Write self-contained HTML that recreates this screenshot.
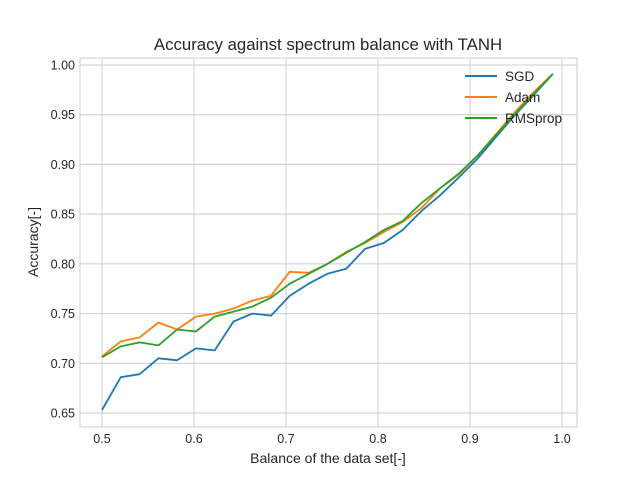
<!DOCTYPE html>
<html><head><meta charset="utf-8"><style>
body{margin:0;background:#fff;font-family:"Liberation Sans","DejaVu Sans",sans-serif;}
svg text{font-family:"Liberation Sans","DejaVu Sans",sans-serif;fill:#262626;}
</style></head><body>
<svg id="chart" width="640" height="480" xmlns="http://www.w3.org/2000/svg">
<rect width="640" height="480" fill="#fff"/>
<text x="328" y="50" font-size="16.8" text-anchor="middle">Accuracy against spectrum balance with TANH</text>
<g id="grid"></g>
<rect x="80" y="58" width="497" height="369" fill="none" stroke="#cccccc" stroke-width="1"/>
<g id="ticks"></g>
<g id="series"></g>
<text x="328" y="463" font-size="14" text-anchor="middle">Balance of the data set[-]</text>
<text transform="translate(38,242) rotate(-90)" font-size="14" text-anchor="middle">Accuracy[-]</text>
<g id="legend"></g>
</svg>
<script>
const xStart = 0.5, xStep = 0.49/24;
const sgd = [0.653,0.686,0.689,0.705,0.703,0.715,0.713,0.742,0.750,0.748,0.768,0.780,0.790,0.795,0.815,0.821,0.834,0.853,0.869,0.887,0.906,0.928,0.950,0.970,0.991];
const adam = [0.707,0.722,0.726,0.741,0.734,0.747,0.750,0.755,0.763,0.768,0.792,0.791,0.800,0.812,0.821,0.832,0.842,0.856,0.876,0.890,0.909,0.931,0.953,0.973,0.991];
const rmsprop = [0.706,0.717,0.721,0.718,0.734,0.732,0.747,0.752,0.757,0.766,0.780,0.790,0.800,0.811,0.822,0.834,0.843,0.861,0.876,0.891,0.909,0.930,0.951,0.971,0.991];
const xTicks = [0.5,0.6,0.7,0.8,0.9,1.0];
const yTicks = [0.65,0.70,0.75,0.80,0.85,0.90,0.95,1.00];
const seriesNames = ["SGD","Adam","RMSprop"];
const NS="http://www.w3.org/2000/svg";
function X(v){return 102+(v-0.5)*920;}
function Y(v){return 65+(1.0-v)*994.3;}
function mk(tag,attrs,parent){const e=document.createElementNS(NS,tag);for(const k in attrs)e.setAttribute(k,attrs[k]);parent.appendChild(e);return e;}
const grid=document.getElementById('grid'),ticks=document.getElementById('ticks'),ser=document.getElementById('series'),leg=document.getElementById('legend');
xTicks.forEach(t=>{
  const l=mk('line',{x1:X(t),x2:X(t),y1:58,y2:427,stroke:'#cccccc','stroke-width':1},grid);
  
  
  const tx=mk('text',{x:X(t),y:443,'font-size':12.5,'text-anchor':'middle'},ticks);
  tx.textContent=t.toFixed(1);
  
  
});
yTicks.forEach(t=>{
  const l=mk('line',{x1:80,x2:577,y1:Y(t),y2:Y(t),stroke:'#cccccc','stroke-width':1},grid);
  
  
  const tx=mk('text',{x:75,y:Y(t)+4.5,'font-size':12.5,'text-anchor':'end'},ticks);
  tx.textContent=t.toFixed(2);
  
  
});
const data=[sgd,adam,rmsprop], colors=['#1f77b4','#ff7f0e','#2ca02c'];
data.forEach((arr,si)=>{
  const pts=arr.map((v,i)=>X(xStart+i*xStep).toFixed(1)+','+Y(v).toFixed(1)).join(' ');
  const p=mk('polyline',{points:pts,fill:'none',stroke:colors[si],'stroke-width':1.8,'stroke-linejoin':'round'},ser);
  
  
  const ly=76+si*21;
  const ll=mk('line',{x1:465,x2:497,y1:ly,y2:ly,stroke:colors[si],'stroke-width':2},leg);
  
  
  const lt=mk('text',{x:505,y:ly+5,'font-size':13.5},leg);
  lt.textContent=seriesNames[si];
  
  
});
</script>
</body></html>
